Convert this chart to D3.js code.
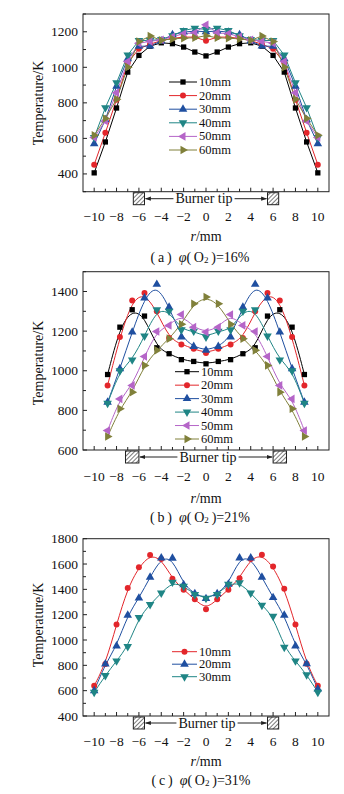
<!DOCTYPE html>
<html>
<head>
<meta charset="utf-8">
<script src="https://cdn.jsdelivr.net/npm/d3@7"></script>
<style>
  html,body{margin:0;padding:0;background:#fff;}
  svg{display:block;}
</style>
</head>
<body>
<svg id="chart" width="344" height="794"></svg>
<script>
// ---------------- DATA ----------------
const seriesNamesA = ["10mm","20mm","30mm","40mm","50mm","60mm"];
const seriesNamesB = ["10mm","20mm","30mm","40mm","50mm","60mm"];
const seriesNamesC = ["10mm","20mm","30mm"];

const rA = [-10,-9,-8,-7,-6,-5,-4,-3,-2,-1,0,1,2,3,4,5,6,7,8,9,10];
const a10 = [406,580,771,973,1067,1119,1138,1133,1114,1086,1064,1086,1114,1133,1138,1119,1067,973,771,580,406];
const a20 = [452,632,818,1025,1104,1130,1150,1163,1170,1170,1149,1170,1170,1163,1150,1130,1104,1025,818,632,452];
const a30 = [570,705,893,1048,1118,1120,1148,1183,1198,1204,1200,1204,1198,1183,1148,1120,1118,1048,893,705,570];
const a40 = [605,773,913,1069,1151,1151,1157,1178,1207,1220,1213,1220,1207,1178,1157,1151,1151,1069,913,773,605];
const a50 = [605,698,857,1032,1136,1146,1155,1172,1189,1194,1239,1194,1189,1172,1155,1146,1136,1032,857,698,605];
const a60 = [618,712,820,1001,1145,1176,1152,1160,1164,1166,1178,1166,1164,1160,1152,1176,1145,1001,820,712,618];

const rB = [-8.8,-7.7,-6.6,-5.5,-4.4,-3.3,-2.2,-1.1,0,1.1,2.2,3.3,4.4,5.5,6.6,7.7,8.8];
const b10 = [981,1220,1308,1276,1116,1086,1056,1047,1035,1047,1056,1086,1116,1276,1308,1220,981];
const b20 = [926,1170,1355,1392,1300,1165,1133,1111,1089,1111,1133,1165,1300,1392,1355,1170,926];
const b30 = [841,1010,1195,1367,1436,1321,1170,1122,1103,1122,1170,1321,1436,1367,1195,1010,841];
const b40 = [836,1000,1055,1175,1308,1301,1207,1200,1170,1200,1207,1301,1308,1175,1055,1000,836];
const b50 = [698,858,926,1072,1198,1229,1284,1220,1195,1220,1284,1229,1198,1072,926,858,698];
const b60 = [668,808,892,1027,1103,1162,1235,1338,1372,1338,1235,1162,1103,1027,892,808,668];

const rC = [-10,-9,-8,-7,-6,-5,-4,-3,-2,-1,0,1,2,3,4,5,6,7,8,9,10];
const c10 = [639,810,1123,1410,1575,1672,1640,1483,1397,1321,1243,1321,1397,1488,1640,1674,1580,1405,1123,812,639];
const c20 = [600,810,953,1196,1331,1496,1648,1645,1436,1366,1327,1366,1440,1648,1648,1496,1335,1196,953,812,614];
const c30 = [587,720,835,948,1178,1280,1371,1457,1425,1360,1330,1360,1440,1452,1371,1274,1188,943,835,726,588];

const xTickValues = [-10,-9,-8,-7,-6,-5,-4,-3,-2,-1,0,1,2,3,4,5,6,7,8,9,10];
const xTickLabels = ["−10","−8","−6","−4","−2","0","2","4","6","8","10"];
const yTicksA = [300,400,500,600,700,800,900,1000,1100,1200,1300];
const yTicksB = [600,700,800,900,1000,1100,1200,1300,1400,1500];
const yTicksC = [400,500,600,700,800,900,1000,1100,1200,1300,1400,1500,1600,1700,1800];
const tipsA = [-6, 6];
const tipsB = [-6.6, 6.6];
const tipsC = [-6, 6];
const captionsPct = ["16%","21%","31%"];
const captionLetters = ["a","b","c"];

// ---------------- STYLE ----------------
const styleMap = {
  "10mm": {color:"#000000", shape:"square"},
  "20mm": {color:"#e3262b", shape:"circle"},
  "30mm": {color:"#1f4fa0", shape:"up"},
  "40mm": {color:"#1f8585", shape:"down"},
  "50mm": {color:"#b565c8", shape:"left"},
  "60mm": {color:"#80803a", shape:"right"}
};
const styleMapC = {
  "10mm": {color:"#e3262b", shape:"circle"},
  "20mm": {color:"#1f4fa0", shape:"up"},
  "30mm": {color:"#1f8585", shape:"down"}
};

const FONT = "'Liberation Serif','Times New Roman',Times,serif";
const TICK_FS = 13.5, TITLE_FS = 14, LEG_FS = 12.5, CAP_FS = 14;
const svg = d3.select("#chart").style("font-family", FONT);

// hatch pattern + arrow marker
const defs = svg.append("defs");
const pat = defs.append("pattern").attr("id","hatch").attr("patternUnits","userSpaceOnUse")
  .attr("width",3).attr("height",3).attr("patternTransform","rotate(45)");
pat.append("rect").attr("width",3).attr("height",3).attr("fill","#fff");
pat.append("line").attr("x1",0).attr("y1",0).attr("x2",0).attr("y2",3).attr("stroke","#222").attr("stroke-width",1.2);
defs.append("marker").attr("id","arrow").attr("viewBox","0 0 10 10").attr("refX",9).attr("refY",5)
  .attr("markerWidth",6).attr("markerHeight",6).attr("orient","auto-start-reverse")
  .append("path").attr("d","M0,1.5 L10,5 L0,8.5 Z").attr("fill","#222");

function symbolPath(shape, size){
  let type = d3.symbolTriangle;
  if (shape==="square") type = d3.symbolSquare;
  if (shape==="circle") type = d3.symbolCircle;
  return d3.symbol().type(type).size(size)();
}
function shapeRot(shape){
  return {down:180,left:-90,right:90}[shape] || 0;
}
function symSize(shape){ return shape==="circle"?28:(shape==="square"?28:32); }

function drawPanel(cfg){
  const x = d3.scaleLinear().domain([-11,11]).range([83,329]);
  const y = d3.scaleLinear().domain(cfg.yDomain).range([cfg.bottom, cfg.top]);
  const g = svg.append("g");

  // frame
  g.append("rect").attr("x",83).attr("y",cfg.top).attr("width",246).attr("height",cfg.bottom-cfg.top)
    .attr("fill","none").attr("stroke","#222").attr("stroke-width",1);

  // x ticks (inward)
  xTickValues.forEach(v=>{
    const major = v%2===0;
    g.append("line").attr("x1",x(v)).attr("x2",x(v)).attr("y1",cfg.bottom).attr("y2",cfg.bottom-(major?4:3))
      .attr("stroke","#222").attr("stroke-width",1);
  });
  xTickValues.filter(v=>v%2===0).forEach((v,i)=>{
    g.append("text").attr("x",x(v)).attr("y",cfg.xLabelY).attr("text-anchor","middle")
      .attr("dominant-baseline","central").attr("font-size",TICK_FS).attr("fill","#111").text(xTickLabels[i]);
  });
  // y ticks
  cfg.yTicks.forEach(v=>{
    const major = v%200===0;
    g.append("line").attr("x1",83).attr("x2",83+(major?4:3)).attr("y1",y(v)).attr("y2",y(v))
      .attr("stroke","#222").attr("stroke-width",1);
    if (major && v>cfg.yDomain[0] || (major && cfg.labelBottom)) {
      g.append("text").attr("x",78).attr("y",y(v)).attr("text-anchor","end")
        .attr("dominant-baseline","central").attr("font-size",TICK_FS).attr("fill","#111").text(v);
    }
  });

  // axis titles
  g.append("text").attr("transform",`translate(38,${cfg.yTitleY}) rotate(-90)`).attr("text-anchor","middle")
    .attr("dominant-baseline","central").attr("font-size",TITLE_FS).attr("fill","#111").text("Temperature/K");
  const xt = g.append("text").attr("x",206).attr("y",cfg.xTitleY).attr("text-anchor","middle")
    .attr("dominant-baseline","central").attr("font-size",TITLE_FS).attr("fill","#111");
  xt.append("tspan").attr("font-style","italic").text("r");
  xt.append("tspan").text("/mm");

  // caption
  const cap = g.append("text").attr("x",cfg.capX).attr("y",cfg.capY).attr("text-anchor","middle")
    .attr("dominant-baseline","central").attr("font-size",CAP_FS).attr("fill","#111");
  cap.append("tspan").text(`(\u2009${cfg.letter}\u2009)\u2002`);
  cap.append("tspan").attr("font-style","italic").text("φ");
  cap.append("tspan").text("(\u2009O");
  cap.append("tspan").attr("font-size",9).attr("dy",3).text("2");
  cap.append("tspan").attr("dy",-3).text(`\u2009)=${cfg.pct}`);

  // burner tips
  const rectTop = cfg.bottom+1, rectH = 12;
  cfg.tips.forEach(t=>{
    g.append("rect").attr("x",x(t-cfg.tipW/2)).attr("y",rectTop).attr("width",x(t+cfg.tipW/2)-x(t-cfg.tipW/2))
      .attr("height",rectH).attr("fill","url(#hatch)").attr("stroke","#222").attr("stroke-width",1);
  });
  const bt = g.append("text").attr("x",cfg.tipTextX).attr("y",rectTop+rectH/2).attr("text-anchor","middle")
    .attr("dominant-baseline","central").attr("font-size",TITLE_FS).attr("fill","#111").text("Burner tip");
  const bb = bt.node().getBBox();
  const ay = rectTop+rectH/2;
  const leftEdge = x(cfg.tips[0]+cfg.tipW/2), rightEdge = x(cfg.tips[1]-cfg.tipW/2);
  g.append("line").attr("x1",bb.x-2).attr("x2",leftEdge+1).attr("y1",ay).attr("y2",ay)
    .attr("stroke","#222").attr("stroke-width",1).attr("marker-end","url(#arrow)");
  g.append("line").attr("x1",bb.x+bb.width+2).attr("x2",rightEdge-1).attr("y1",ay).attr("y2",ay)
    .attr("stroke","#222").attr("stroke-width",1).attr("marker-end","url(#arrow)");

  // series
  const line = d3.line().x(d=>x(d[0])).y(d=>y(d[1])).curve(cfg.curve);
  cfg.series.forEach(s=>{
    const st = cfg.styles[s.name];
    const pts = cfg.xs.map((xv,i)=>[xv, s.values[i]]);
    g.append("path").datum(pts).attr("d",line).attr("fill","none").attr("stroke",st.color).attr("stroke-width",1);
  });
  cfg.series.forEach(s=>{
    const st = cfg.styles[s.name];
    const pts = cfg.xs.map((xv,i)=>[xv, s.values[i]]);
    g.selectAll(null).data(pts).enter().append("path")
      .attr("d",symbolPath(st.shape, symSize(st.shape)))
      .attr("transform",d=>`translate(${x(d[0])},${y(d[1])}) rotate(${shapeRot(st.shape)})`)
      .attr("fill",st.color);
  });

  // legend
  cfg.series.forEach((s,i)=>{
    const st = cfg.styles[s.name];
    const ly = cfg.legY + i*cfg.legDy;
    g.append("line").attr("x1",cfg.legX1).attr("x2",cfg.legX2).attr("y1",ly).attr("y2",ly)
      .attr("stroke",st.color).attr("stroke-width",1);
    g.append("path").attr("d",symbolPath(st.shape, symSize(st.shape)))
      .attr("transform",`translate(${(cfg.legX1+cfg.legX2)/2},${ly}) rotate(${shapeRot(st.shape)})`)
      .attr("fill",st.color);
    g.append("text").attr("x",cfg.legX2+2).attr("y",ly).attr("dominant-baseline","central")
      .attr("font-size",LEG_FS).attr("fill","#111").text(s.name);
  });
}

drawPanel({
  top:14, bottom:191.7, yDomain:[300,1300], yTicks:yTicksA, labelBottom:false,
  xLabelY:216, xTitleY:236, yTitleY:103, capX:200, capY:257, letter:captionLetters[0], pct:captionsPct[0],
  tips:tipsA, tipW:1, tipTextX:204,
  xs:rA, curve:d3.curveLinear, styles:styleMap,
  series:[a10,a20,a30,a40,a50,a60].map((v,i)=>({name:seriesNamesA[i], values:v})),
  legX1:169, legX2:197, legY:82, legDy:13.6
});
drawPanel({
  top:271.7, bottom:450, yDomain:[600,1500], yTicks:yTicksB, labelBottom:true,
  xLabelY:476.7, xTitleY:497.7, yTitleY:363, capX:200, capY:516.7, letter:captionLetters[1], pct:captionsPct[1],
  tips:tipsB, tipW:1.2, tipTextX:208,
  xs:rB, curve:d3.curveBasis, styles:styleMap,
  series:[b10,b20,b30,b40,b50,b60].map((v,i)=>({name:seriesNamesB[i], values:v})),
  legX1:175, legX2:199, legY:371.7, legDy:13.46
});
drawPanel({
  top:538.7, bottom:716, yDomain:[400,1800], yTicks:yTicksC, labelBottom:true,
  xLabelY:741.7, xTitleY:760.7, yTitleY:625, capX:201, capY:780, letter:captionLetters[2], pct:captionsPct[2],
  tips:tipsC, tipW:1, tipTextX:207,
  xs:rC, curve:d3.curveBasis, styles:styleMapC,
  series:[c10,c20,c30].map((v,i)=>({name:seriesNamesC[i], values:v})),
  legX1:172, legX2:197, legY:651.7, legDy:12.5
});
</script>
</body>
</html>
